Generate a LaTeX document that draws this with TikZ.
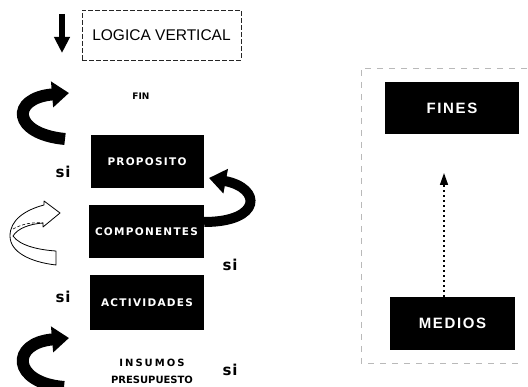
\documentclass[tikz,border=0pt]{standalone}
\usepackage{fontspec}
\setmainfont{Liberation Sans}
\newfontfamily\boxface[LetterSpace=12]{DejaVu Sans}
\newfontfamily\insface[LetterSpace=20]{DejaVu Sans}
\newfontfamily\heavyface{DejaVu Sans}
\newfontfamily\siface[LetterSpace=6]{DejaVu Sans}
\newfontfamily\panelface[LetterSpace=11]{Liberation Sans}
\usetikzlibrary{arrows.meta}
\begin{document}
\begin{tikzpicture}[x=1pt,y=-1pt,
  blackbox/.style={fill=black, text=white, inner sep=0pt,
    font=\boxface\bfseries\fontsize{10.5}{12}\selectfont},
  bigbox/.style={fill=black, text=white, inner sep=0pt,
    font=\panelface\bfseries\fontsize{15}{17}\selectfont},
  plain/.style={inner sep=0pt, font=\heavyface\bfseries\fontsize{10}{12}\selectfont},
  silabel/.style={inner sep=0pt, font=\siface\bfseries\fontsize{15}{17}\selectfont},
  bigarc/.style={line width=12pt, -{Triangle[width=25pt,length=17pt]}},
  frameline/.style={gray!55, line width=0.4pt, dash pattern=on 6pt off 6pt},
]
\useasboundingbox (0,0) rectangle (528,387);

% title box and downward arrow
\node[draw=black!85, line width=0.7pt, dash pattern=on 5pt off 2pt,
      minimum width=159pt, minimum height=50pt, inner sep=0pt,
      font=\fontsize{15.5}{17}\selectfont] (logica) at (161.5,35) {LOGICA VERTICAL};
\coordinate (dtop) at (62,14);
\coordinate (dbot) at (62,53);
\draw[line width=5.5pt, -{Triangle[width=15pt,length=16pt]}] (dtop) -- (dbot);

% hierarchy of levels
\node[plain, font=\heavyface\bfseries\fontsize{9}{11}\selectfont] (fin) at (141,96) {FIN};
\node[blackbox, minimum width=113pt, minimum height=53pt] (prop) at (147,161.5) {PROPOSITO};
\node[blackbox, minimum width=115pt, minimum height=53pt] (comp) at (146.5,231.5) {COMPONENTES};
\node[blackbox, minimum width=114pt, minimum height=55pt] (act) at (147,302.5) {ACTIVIDADES};
\node[plain, align=center, font=\heavyface\bfseries\fontsize{10}{17}\selectfont] (insumos) at (152,371)
  {{\insface INSUMOS}\\PRESUPUESTO};

% "si" labels
\node[silabel] (si1) at (63,172) {si};
\node[silabel] (si2) at (230,265) {si};
\node[silabel] (si3) at (63,297) {si};
\node[silabel] (si4) at (230,370) {si};

% thick curved arrows
\coordinate (a1s) at (65,139);
\coordinate (a1e) at (69,93);
\draw[bigarc] (a1s) .. controls (12,134) and (10,98) .. (a1e);

\coordinate (a2s) at (64,387);
\coordinate (a2e) at (69,338);
\draw[bigarc] (a2s) .. controls (12,383) and (10,343) .. (a2e);

\coordinate (a3s) at (comp.east |- 0,222);
\coordinate (a3e) at (209,178);
\draw[line width=10pt, -{Triangle[width=24pt,length=17pt]}]
  (a3s) .. controls (262,222) and (262,188) .. (a3e);

% outlined twisted arrow
\draw[fill=white, line width=0.8pt, line join=round]
  (56,251) -- (56,265)
  .. controls (30,262) and (10,252) .. (10,236)
  .. controls (10,220) and (25,210) .. (44,205)
  -- (44,201) -- (60,213) -- (43,227) -- (43,223)
  .. controls (30,224) and (18,228) .. (13,236)
  .. controls (20,246) and (40,250) .. (56,251) -- cycle;
\draw[line width=0.6pt, dash pattern=on 3pt off 2pt] (13,229) .. controls (22,224) and (32,222) .. (43,223);

% means / ends panel
\coordinate (fr1) at (527,68);
\coordinate (fr2) at (361,68);
\coordinate (fr3) at (361,363);
\coordinate (fr4) at (522,363);
\draw[frameline] (fr1) -- (fr2) -- (fr3) -- (fr4);
\node[bigbox, minimum width=134pt, minimum height=52pt] (fines) at (452,108) {FINES};
\node[bigbox, minimum width=125pt, minimum height=53pt] (medios) at (452.5,323.5) {MEDIOS};
\coordinate (up) at (444,173);
\draw[line width=1.6pt, dash pattern=on 1.6pt off 3.4pt,
      -{Triangle[width=8pt,length=12pt,sep=0pt]}] (medios.north -| up) -- (up);
\end{tikzpicture}
\end{document}
